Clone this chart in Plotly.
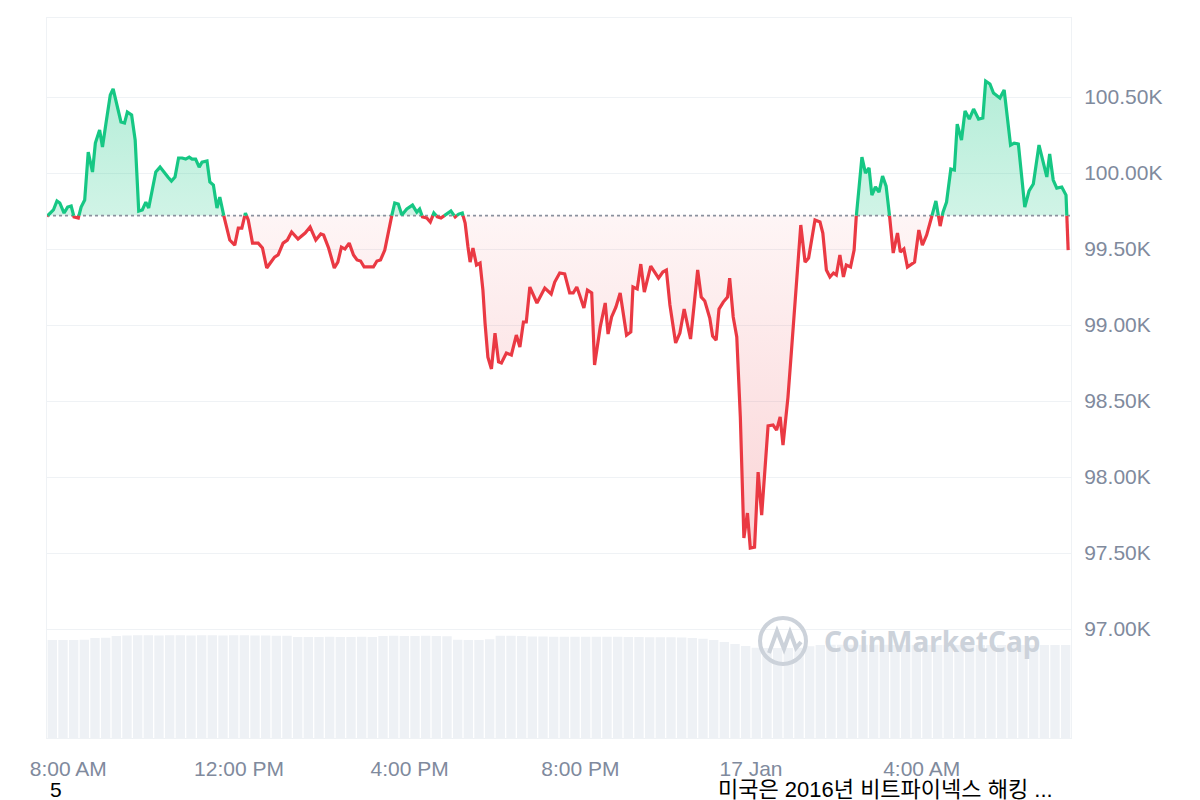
import pandas as pd
import plotly.graph_objects as go

# ---------------- data ----------------
START = "2025-01-16 07:30"
BASE = 99720  # reference (open) price, dotted line

minutes = [0, 9, 14, 18, 24, 29, 34, 38, 44, 48, 53, 58, 64, 68, 74, 78, 83, 89, 93, 98,
           104, 109, 113, 119, 124, 129, 134, 139, 143, 148, 153, 159, 165, 170, 175, 180, 185, 190, 195, 200,
           204, 209, 214, 218, 225, 229, 234, 239, 243, 249, 253, 257, 264, 269, 274, 279, 283, 289, 297, 303,
           309, 314, 320, 325, 332, 338, 344, 353, 363, 370, 378, 385, 389, 396, 404, 409, 414, 419, 425, 431,
           436, 441, 446, 453, 459, 464, 469, 475, 480, 485, 489, 494, 499, 506, 514, 520, 524, 528, 534, 539,
           544, 549, 554, 560, 568, 574, 579, 584, 588, 592, 595, 599, 604, 609, 613, 616, 620, 625, 630, 635,
           639, 646, 653, 660, 665, 670, 674, 679, 689, 700, 709, 714, 721, 728, 735, 740, 745, 749, 755, 760,
           766, 770, 778, 785, 789, 794, 800, 806, 815, 821, 824, 830, 835, 840, 849, 860, 866, 871, 876, 884,
           890, 896, 905, 910, 915, 920, 925, 932, 936, 941, 945, 951, 957, 960, 965, 970, 975, 980, 985, 989,
           995, 1000, 1005, 1014, 1021, 1026, 1031, 1035, 1042, 1047, 1052, 1055, 1060, 1066, 1071, 1080, 1087, 1091, 1096, 1101,
           1106, 1110, 1115, 1120, 1124, 1130, 1135, 1138, 1146, 1151, 1156, 1160, 1165, 1170, 1175, 1180, 1185, 1190, 1196, 1200,
           1205, 1210, 1220, 1226, 1231, 1237, 1244, 1250, 1256, 1260, 1265, 1271, 1276, 1280, 1286, 1291, 1297, 1303, 1310, 1316,
           1320, 1326, 1331, 1340, 1346, 1355, 1360, 1366, 1375, 1381, 1387, 1395, 1406, 1410, 1415, 1420, 1427, 1433, 1436]

prices = [99715, 99757, 99816, 99803, 99737, 99776, 99783, 99711, 99704, 99776, 99822, 100138, 100007, 100197, 100283, 100171, 100329, 100513, 100553, 100447,
          100336, 100329, 100401, 100382, 100217, 99750, 99757, 99809, 99770, 99888, 100007, 100039, 100000, 99974, 99947, 99974, 100099, 100099, 100092, 100105,
          100092, 100092, 100039, 100072, 100079, 99941, 99921, 99770, 99842, 99711, 99645, 99559, 99526, 99638, 99638, 99737, 99691, 99539, 99539, 99507,
          99375, 99408, 99447, 99461, 99539, 99559, 99612, 99566, 99605, 99645, 99559, 99599, 99592, 99507, 99375, 99414, 99513, 99500, 99539, 99461,
          99428, 99421, 99382, 99382, 99382, 99421, 99428, 99493, 99605, 99724, 99803, 99796, 99724, 99763, 99789, 99743, 99763, 99711, 99704, 99678,
          99737, 99711, 99704, 99724, 99750, 99711, 99730, 99737, 99671, 99513, 99414, 99507, 99395, 99408, 99230, 99013, 98789, 98711, 98947, 98757,
          98750, 98816, 98803, 98934, 98855, 99020, 99020, 99250, 99145, 99243, 99204, 99283, 99342, 99336, 99211, 99211, 99250, 99197, 99112, 99230,
          99211, 98737, 98987, 99145, 98941, 99053, 99118, 99211, 98934, 98954, 99250, 99237, 99401, 99217, 99388, 99309, 99349, 99362, 99132, 98882,
          98947, 99105, 98908, 99132, 99362, 99184, 99158, 99046, 98928, 98901, 99105, 99151, 99184, 99309, 99053, 98921, 98395, 97599, 97763, 97533,
          97539, 98033, 97750, 98336, 98342, 98309, 98395, 98210, 98526, 98836, 99164, 99296, 99658, 99414, 99441, 99691, 99678, 99605, 99362, 99316,
          99342, 99329, 99461, 99316, 99395, 99382, 99493, 99711, 100105, 100000, 100033, 99855, 99908, 99875, 99980, 99914, 99711, 99474, 99605, 99480,
          99500, 99382, 99414, 99625, 99526, 99592, 99711, 99816, 99651, 99743, 99809, 100026, 100020, 100322, 100217, 100408, 100355, 100421, 100355, 100362,
          100605, 100586, 100526, 100493, 100546, 100184, 100197, 100191, 99776, 99882, 99928, 100184, 99974, 100125, 99954, 99901, 99908, 99855, 99493]

# 15-minute volume bars (relative, billions USD)
VOL_STEP_MIN = 15
volumes = [58.8, 58.8, 58.8, 59.0,
           60.0, 60.2,
           61.2, 61.5, 61.6, 61.6, 61.5, 61.6, 61.6, 61.5, 61.6, 61.6, 61.5, 61.6, 61.6, 61.5, 61.5, 61.4, 61.4,
           60.6, 60.6, 60.6, 60.7, 60.6, 60.6, 60.7, 60.6,
           61.2, 61.3, 61.2, 61.2, 61.3, 61.2, 61.0,
           59.0, 58.8, 58.8, 59.2,
           61.4, 61.4, 61.2,
           60.9, 60.9, 60.8, 60.8, 60.8, 60.7, 60.8, 60.8, 60.7, 60.6, 60.6, 60.5, 60.4, 60.4, 60.3, 60.0, 59.6,
           58.8, 57.6, 56.4, 55.2,
           54.2, 54.0, 54.0, 54.0, 54.2,
           55.0, 55.8, 56.0, 56.0, 56.0, 56.0, 56.0, 56.0, 55.8, 55.8, 55.8, 55.8, 55.8, 55.8, 55.8, 55.8,
           55.8, 55.8, 55.8, 55.8, 55.8, 55.8, 55.8, 55.8, 55.8]

tick_minutes = [30, 270, 510, 750, 990, 1230]
tick_labels = ["8:00 AM", "12:00 PM", "4:00 PM", "8:00 PM", "17 Jan", "4:00 AM"]
ytick_vals = [97000, 97500, 98000, 98500, 99000, 99500, 100000, 100500]
ytick_text = ["97.00K", "97.50K", "98.00K", "98.50K", "99.00K", "99.50K", "100.00K", "100.50K"]
news_count = "5"
news_title = "미국은 2016년 비트파이넥스 해킹 ..."

# ---------------- styling ----------------
GREEN = "#16c784"
RED = "#ea3943"
GRID = "#eff2f5"
TICK = "#808a9d"
FONT = "Liberation Sans, Arial, Noto Sans CJK KR"

start = pd.Timestamp(START)
def tmin(m):
    return start + pd.to_timedelta(m, unit="min")

# insert baseline crossings so colours switch exactly at the dotted line
xs, ys = [], []
for i, (m, p) in enumerate(zip(minutes, prices)):
    if i > 0:
        m0, p0 = minutes[i - 1], prices[i - 1]
        if (p0 - BASE) * (p - BASE) < 0:
            t = (BASE - p0) / (p - p0)
            xs.append(m0 + t * (m - m0))
            ys.append(BASE)
    xs.append(m)
    ys.append(p)

times = [tmin(m) for m in xs]
up_fill = [max(y, BASE) for y in ys]
dn_fill = [min(y, BASE) for y in ys]
up_line = [y if y >= BASE else None for y in ys]
dn_line = [y if y <= BASE else None for y in ys]
base_line = [BASE] * len(ys)

vol_x = [tmin(i * VOL_STEP_MIN + VOL_STEP_MIN / 2) for i in range(len(volumes))]

fig = go.Figure()

fig.add_trace(go.Bar(x=vol_x, y=volumes, marker=dict(color="#eef1f5", line=dict(width=0)),
                     yaxis="y2", hoverinfo="skip"))

fig.add_trace(go.Scatter(x=times, y=base_line, mode="lines", line=dict(width=0), hoverinfo="skip"))
fig.add_trace(go.Scatter(x=times, y=up_fill, mode="lines", line=dict(width=0), fill="tonexty",
                         fillgradient=dict(type="vertical", start=BASE, stop=100600,
                                           colorscale=[[0, "rgba(22,199,132,0.20)"], [1, "rgba(22,199,132,0.32)"]]),
                         hoverinfo="skip"))
fig.add_trace(go.Scatter(x=times, y=base_line, mode="lines", line=dict(width=0), hoverinfo="skip"))
fig.add_trace(go.Scatter(x=times, y=dn_fill, mode="lines", line=dict(width=0), fill="tonexty",
                         fillgradient=dict(type="vertical", start=97500, stop=BASE,
                                           colorscale=[[0, "rgba(234,57,67,0.22)"], [1, "rgba(234,57,67,0.05)"]]),
                         hoverinfo="skip"))

# dotted reference line
fig.add_trace(go.Scatter(x=[tmin(0), tmin(1440)], y=[BASE, BASE], mode="lines",
                         line=dict(color="#8a919e", width=1.8, dash="dot"), hoverinfo="skip"))

fig.add_trace(go.Scatter(x=times, y=dn_line, mode="lines", line=dict(color=RED, width=3.2),
                         connectgaps=False))
fig.add_trace(go.Scatter(x=times, y=up_line, mode="lines", line=dict(color=GREEN, width=3.2),
                         connectgaps=False))

# ---------------- layout ----------------
OFF = 8  # page body margin
L, R, T, B = 47 - OFF, 137, 18 - OFF, 70
W, H = 1200, 800
PW, PH = W - L - R, H - T - B

def px(xp):  # reference page pixel -> paper fraction
    return (xp - OFF - L) / PW
def py(yp):
    return (H - B - (yp - OFF)) / PH

fig.update_layout(
    width=W, height=H,
    margin=dict(l=L, r=R, t=T, b=B),
    plot_bgcolor="white", paper_bgcolor="white",
    showlegend=False, bargap=0.12,
    font=dict(family=FONT),
    xaxis=dict(type="date", range=[tmin(0), tmin(1440)],
               tickvals=[tmin(m) for m in tick_minutes], ticktext=tick_labels,
               showgrid=False, zeroline=False, showline=True, mirror=True, linecolor=GRID, linewidth=1,
               ticks="", tickfont=dict(size=21, color=TICK, family=FONT), ticklabelstandoff=12),
    yaxis=dict(side="right", range=[96283, 101020], tickvals=ytick_vals, ticktext=ytick_text,
               showgrid=True, gridcolor=GRID, gridwidth=1, zeroline=False,
               showline=True, mirror=True, linecolor=GRID, linewidth=1,
               ticks="", tickfont=dict(size=21, color=TICK, family=FONT), ticklabelstandoff=8),
    yaxis2=dict(overlaying="y", range=[0, 432], visible=False),
)

# news strip under the axis
fig.add_annotation(x=px(56), y=py(789), xref="paper", yref="paper", text=news_count, showarrow=False,
                   font=dict(size=21, color="#000000", family=FONT), xanchor="center", yanchor="middle")
fig.add_annotation(x=px(1055), y=py(789), xref="paper", yref="paper", text=news_title, showarrow=False,
                   font=dict(size=22, color="#000000", family=FONT), xanchor="right", yanchor="middle")

# watermark
WM = "#ccd2da"
fig.add_annotation(x=px(822), y=py(641), xref="paper", yref="paper", text="<b>CoinMarketCap</b>",
                   showarrow=False, xanchor="left", yanchor="middle",
                   font=dict(size=28, color=WM, family="Noto Sans"))
fig.add_shape(type="circle", xref="paper", yref="paper", x0=px(760), x1=px(806), y0=py(664), y1=py(618),
              line=dict(color=WM, width=4))
path_pts = [(769, 653), (777, 631), (784, 649), (790, 632), (796, 648), (801, 642)]
path = "M " + " L ".join(f"{px(a):.5f},{py(b):.5f}" for a, b in path_pts)
fig.add_shape(type="path", xref="paper", yref="paper", path=path, line=dict(color=WM, width=4))

fig.write_html("out.html")
